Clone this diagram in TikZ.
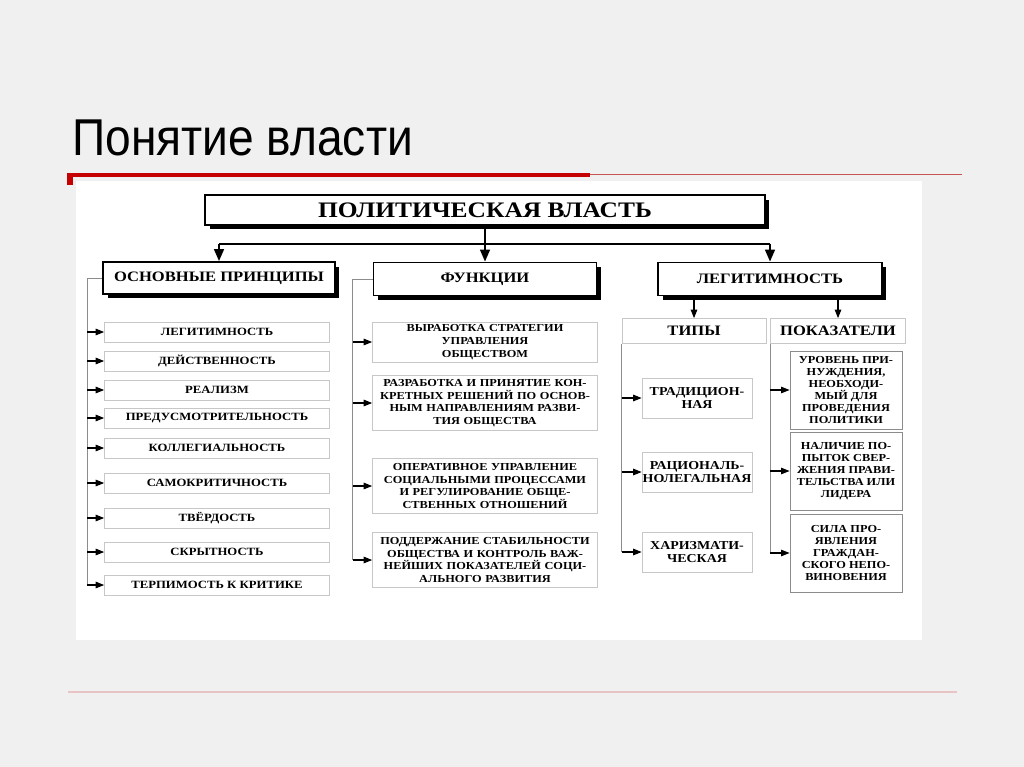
\documentclass[tikz,border=0pt]{standalone}
\usepackage{fontspec}
\setmainfont{Liberation Serif}
\newfontfamily\titlefont[FakeStretch=0.89]{Liberation Sans}
\newfontfamily\scanfont[FakeStretch=1.15]{Liberation Serif}
\usetikzlibrary{calc,arrows.meta,positioning,shadows}
\definecolor{slidered}{RGB}{196,0,0}
\definecolor{thinred}{RGB}{200,84,84}
\definecolor{pinkline}{RGB}{232,196,196}
\tikzset{
  headbox/.style={draw=black, line width=1.1pt, fill=white, align=center, inner sep=0pt,
    drop shadow={shadow xshift=0.09cm, shadow yshift=-0.09cm, fill=black, opacity=1},
    font=\scanfont\bfseries\fontsize{8.2}{8.2}\selectfont},
  item/.style={draw=black!22, line width=0.4pt, align=center, inner sep=0pt,
    font=\scanfont\bfseries\fontsize{6.3}{6.5}\selectfont},
  funcbox/.style={item, text width=4.3cm, inner xsep=0.1cm,
    font=\scanfont\bfseries\fontsize{6.1}{7.2}\selectfont},
  subhead/.style={item, minimum height=0.5cm,
    font=\scanfont\bfseries\fontsize{8.2}{8.2}\selectfont},
  typebox/.style={item, minimum width=2.2cm, minimum height=0.8cm,
    font=\scanfont\bfseries\fontsize{6.9}{7.6}\selectfont},
  indbox/.style={draw=black!45, line width=0.5pt, align=center, inner sep=0pt,
    minimum width=2.24cm, minimum height=1.56cm,
    font=\scanfont\bfseries\fontsize{6.1}{6.8}\selectfont},
  link/.style={draw=black, line width=0.9pt},
  bus/.style={draw=black!45, line width=0.5pt},
  bigarr/.style={-{Triangle[length=0.24cm,width=0.2cm]}, line width=0.9pt},
  arr/.style={-{Triangle[length=0.17cm,width=0.13cm]}, line width=0.6pt}
}
\begin{document}
\begin{tikzpicture}[x=0.02cm, y=-0.02cm]
  % slide background
  \fill[black!6] (0,0) rectangle (1024,767);
  \node[anchor=base west, inner sep=0pt, font=\titlefont\fontsize{29.5}{30}\selectfont]
    (title) at (72,155) {Понятие власти};
  \fill[slidered] (67,173) rectangle (590,177);
  \fill[slidered] (67,173) rectangle (73,185);
  \draw[thinred, line width=0.8pt] (590,174.5) -- (962,174.5);
  \draw[pinkline, line width=0.8pt] (68,692) -- (957,692);
  \fill[white] (76,181) rectangle (922,640);

  % top level
  \node[headbox, minimum width=11.2cm, minimum height=0.6cm,
    font=\scanfont\bfseries\fontsize{12.6}{12.6}\selectfont] (pol) at (485,210) {ПОЛИТИЧЕСКАЯ ВЛАСТЬ};
  \node[headbox, minimum width=4.64cm, minimum height=0.64cm] (osn) at (219,278) {ОСНОВНЫЕ ПРИНЦИПЫ};
  \node[headbox, minimum width=4.46cm, minimum height=0.66cm] (fun) at (485,279) {ФУНКЦИИ};
  \node[headbox, minimum width=4.48cm, minimum height=0.66cm] (leg) at (770,279) {ЛЕГИТИМНОСТЬ};

  \coordinate (split) at ($(pol.south)+(0,18)$);
  \draw[link] (pol.south) -- (split);
  \draw[link] (split -| osn.north) -- (split -| leg.north);
  \foreach \n in {osn,fun,leg}{
    \draw[bigarr] (split -| \n.north) -- (\n.north);
  }

  % principles
  \foreach \i/\y/\t in {1/332/ЛЕГИТИМНОСТЬ, 2/361/ДЕЙСТВЕННОСТЬ, 3/390/РЕАЛИЗМ,
      4/418/ПРЕДУСМОТРИТЕЛЬНОСТЬ, 5/448/КОЛЛЕГИАЛЬНОСТЬ, 6/483/САМОКРИТИЧНОСТЬ,
      7/518/ТВЁРДОСТЬ, 8/552/СКРЫТНОСТЬ, 9/585/ТЕРПИМОСТЬ К КРИТИКЕ}{
    \node[item, minimum width=4.5cm, minimum height=0.4cm] (p\i) at (217,\y) {\t};
  }
  \coordinate (pbus) at ($(osn.west)+(-15,0)$);
  \draw[bus] (osn.west) -- (pbus) -- (pbus |- p9.west);
  \foreach \i in {1,...,9}{
    \draw[arr] (pbus |- p\i.west) -- (p\i.west);
  }

  % functions
  \node[funcbox, minimum height=0.8cm] (f1) at (485,342)
    {ВЫРАБОТКА СТРАТЕГИИ\\УПРАВЛЕНИЯ\\ОБЩЕСТВОМ};
  \node[funcbox, minimum height=1.1cm] (f2) at (485,403)
    {РАЗРАБОТКА И ПРИНЯТИЕ КОН-\\КРЕТНЫХ РЕШЕНИЙ ПО ОСНОВ-\\НЫМ НАПРАВЛЕНИЯМ РАЗВИ-\\ТИЯ ОБЩЕСТВА};
  \node[funcbox, minimum height=1.1cm] (f3) at (485,486)
    {ОПЕРАТИВНОЕ УПРАВЛЕНИЕ\\СОЦИАЛЬНЫМИ ПРОЦЕССАМИ\\И РЕГУЛИРОВАНИЕ ОБЩЕ-\\СТВЕННЫХ ОТНОШЕНИЙ};
  \node[funcbox, minimum height=1.1cm] (f4) at (485,560)
    {ПОДДЕРЖАНИЕ СТАБИЛЬНОСТИ\\ОБЩЕСТВА И КОНТРОЛЬ ВАЖ-\\НЕЙШИХ ПОКАЗАТЕЛЕЙ СОЦИ-\\АЛЬНОГО РАЗВИТИЯ};
  \coordinate (fbus) at ($(fun.west)+(-20,0)$);
  \draw[bus] (fun.west) -- (fbus) -- (fbus |- f4.west);
  \foreach \i in {1,...,4}{
    \draw[arr] (fbus |- f\i.west) -- (f\i.west);
  }

  % legitimacy: types
  \node[subhead, minimum width=2.88cm] (typ) at (694,331) {ТИПЫ};
  \draw[arr] (typ.north |- leg.south) -- (typ.north);
  \node[typebox] (t1) at (697,398) {ТРАДИЦИОН-\\НАЯ};
  \node[typebox] (t2) at (697,472) {РАЦИОНАЛЬ-\\НОЛЕГАЛЬНАЯ};
  \node[typebox] (t3) at (697,552) {ХАРИЗМАТИ-\\ЧЕСКАЯ};
  \draw[bus] (typ.south west) -- (typ.south west |- t3.west);
  \foreach \i in {1,2,3}{
    \draw[arr] (typ.south west |- t\i.west) -- (t\i.west);
  }

  % legitimacy: indicators
  \node[subhead, minimum width=2.7cm] (pok) at (838,331) {ПОКАЗАТЕЛИ};
  \draw[arr] (pok.north |- leg.south) -- (pok.north);
  \node[indbox] (i1) at (846,390) {УРОВЕНЬ ПРИ-\\НУЖДЕНИЯ,\\НЕОБХОДИ-\\МЫЙ ДЛЯ\\ПРОВЕДЕНИЯ\\ПОЛИТИКИ};
  \node[indbox] (i2) at (846,471) {НАЛИЧИЕ ПО-\\ПЫТОК СВЕР-\\ЖЕНИЯ ПРАВИ-\\ТЕЛЬСТВА ИЛИ\\ЛИДЕРА};
  \node[indbox] (i3) at (846,553) {СИЛА ПРО-\\ЯВЛЕНИЯ\\ГРАЖДАН-\\СКОГО НЕПО-\\ВИНОВЕНИЯ};
  \draw[bus] (pok.south west) -- (pok.south west |- i3.west);
  \foreach \i in {1,2,3}{
    \draw[arr] (pok.south west |- i\i.west) -- (i\i.west);
  }
\end{tikzpicture}
\end{document}
